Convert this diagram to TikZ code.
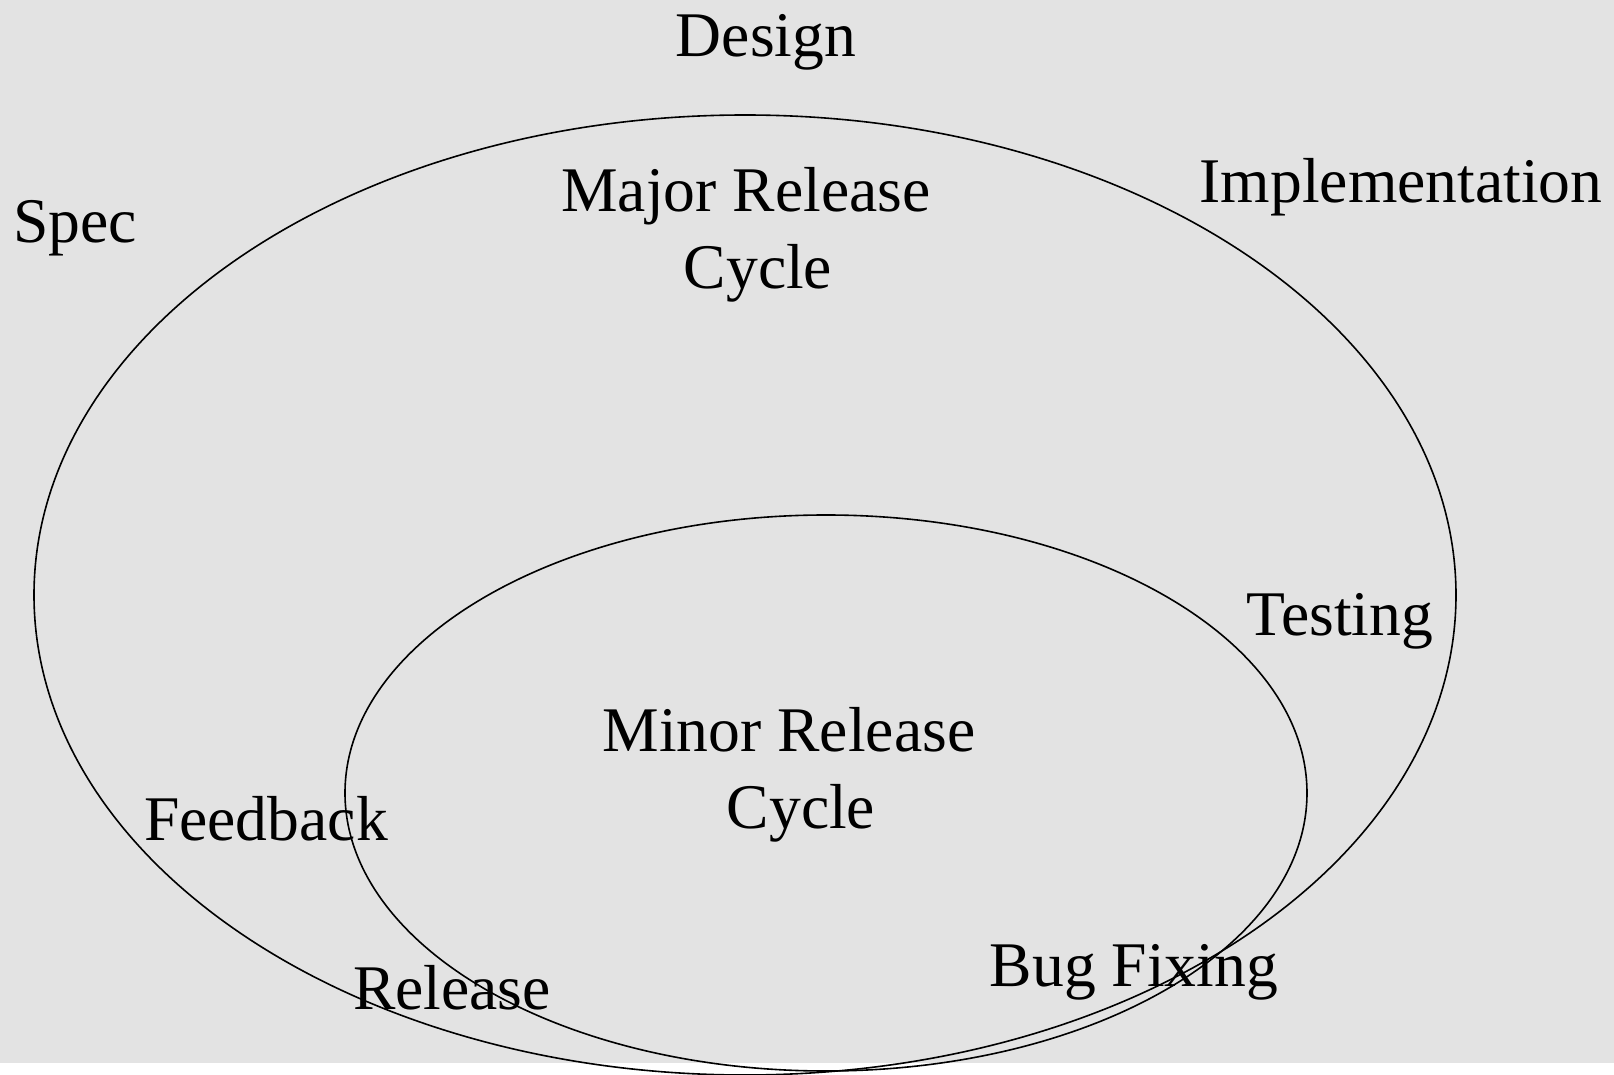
\documentclass[tikz,border=0pt]{standalone}
\usepackage{fontspec}
\setmainfont{Liberation Serif}
\definecolor{paneGray}{HTML}{E3E3E3}

\begin{document}
\begin{tikzpicture}[%%
  x=0.5pt,y=-0.5pt,%%
  cycleStyle/.style={draw,line width=0.8pt,black},%%
  labelStyle/.style={anchor=base,inner sep=0pt,align=center,font=\fontsize{31.8}{38.5}\selectfont}%%
]
%%
%%
%% The frame and its gray pane.
\useasboundingbox (0,0) rectangle (1614,1075);
\fill[paneGray] (0,0) rectangle (1614,1063);
%% The centres of the two cycles.
\coordinate (majorCenter) at (745,595);
\coordinate (minorCenter) at (826,793);
%% The two cycles, cut at the lower edge.
\begin{scope}
  \clip (0,0) rectangle (1614,1075);
  \draw[cycleStyle] (majorCenter) ellipse [x radius=711, y radius=480];
  \draw[cycleStyle] (minorCenter) ellipse [x radius=481, y radius=278];
\end{scope}
%% The phases round the major cycle.
\node[labelStyle] (design) at (766,57) {Design};
\node[labelStyle] (spec) at (75,243) {Spec};
\node[labelStyle] (implementation) at (1401,203) {Implementation};
\node[labelStyle] (testing) at (1340,635) {Testing};
\node[labelStyle] (bugFixing) at (1134,986) {Bug Fixing};
\node[labelStyle] (release) at (452,1009) {Release};
\node[labelStyle] (feedback) at (266,840) {Feedback};
%% The names of the cycles (base is the last line).
\node[labelStyle] (majorCycle) at (758,289) {Major Release\hspace*{0.38em}\\Cycle};
\node[labelStyle] (minorCycle) at (801,828) {Minor Release\hspace*{0.38em}\\Cycle};
\end{tikzpicture}
\end{document}
